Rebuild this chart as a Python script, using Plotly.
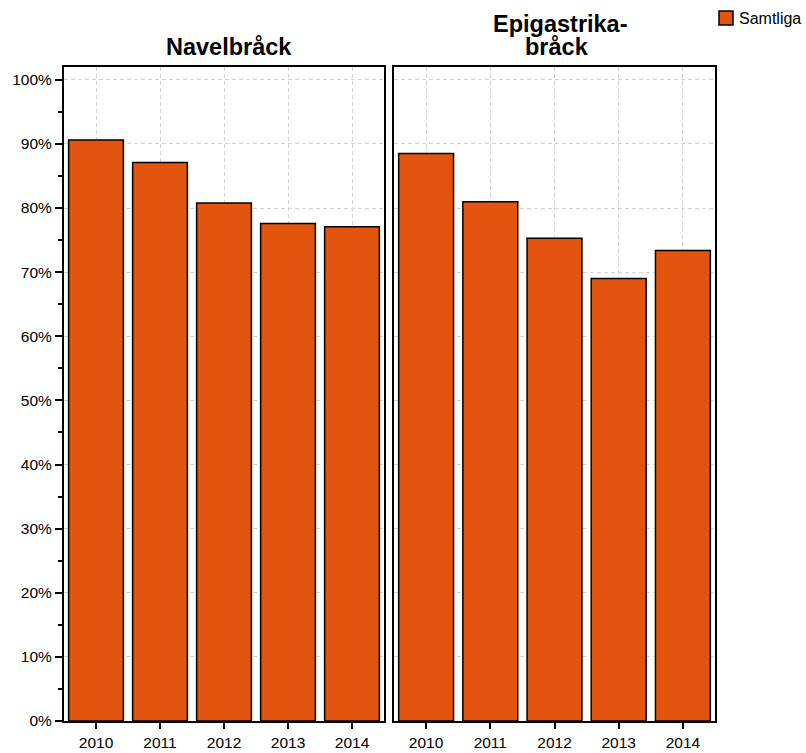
import plotly.graph_objects as go
from plotly.subplots import make_subplots

years = ["2010", "2011", "2012", "2013", "2014"]
navel = [90.6, 87.1, 80.8, 77.6, 77.1]
epigastrika = [88.5, 81.0, 75.3, 69.0, 73.4]
panel_title_1 = "Navelbråck"
panel_title_2 = ["Epigastrika-", "bråck"]
series_name = "Samtliga"
yticks = [0, 10, 20, 30, 40, 50, 60, 70, 80, 90, 100]
ytick_labels = ["0%", "10%", "20%", "30%", "40%", "50%", "60%", "70%", "80%", "90%", "100%"]

color = "#E3550F"
W, H = 806, 753
ml, mr, mt, mb = 64, 91, 67, 32
pw = W - ml - mr
ph = H - mt - mb


def px_x(x):
    return (x - ml) / pw


def px_y(y):
    return 1 - (y - mt) / ph


fig = make_subplots(rows=1, cols=2)
fig.add_trace(go.Bar(x=years, y=navel, name=series_name,
                     marker=dict(color=color, line=dict(color="black", width=1.5)),
                     width=0.855, showlegend=False), row=1, col=1)
fig.add_trace(go.Bar(x=years, y=epigastrika, name=series_name,
                     marker=dict(color=color, line=dict(color="black", width=1.5)),
                     width=0.855, showlegend=False), row=1, col=2)

font = "Liberation Sans, Arial, Helvetica, sans-serif"
grid = dict(showgrid=True, gridcolor="#d4d4d4", griddash="4px,3px", gridwidth=1)
xcommon = dict(showline=True, linecolor="black", linewidth=2, mirror=True, ticks="outside", ticklen=6,
               tickcolor="black", tickwidth=2, range=[-0.5, 4.5], automargin=False,
               tickfont=dict(size=15.5, color="black"), **grid)
ycommon = dict(showline=True, linecolor="black", linewidth=2, mirror=True, range=[0, 102],
               tickvals=yticks, zeroline=False, automargin=False, **grid)

fig.update_xaxes(**xcommon)
fig.update_layout(
    xaxis=dict(domain=[0, 320 / pw]),
    xaxis2=dict(domain=[330 / pw, 1]),
    yaxis=dict(**ycommon, ticktext=ytick_labels, ticks="outside", ticklen=7, tickwidth=2, tickcolor="black",
               tickfont=dict(size=15.5, color="black"),
               minor=dict(dtick=5, ticks="outside", ticklen=4, tickcolor="black", tickwidth=2, showgrid=False)),
    yaxis2=dict(**ycommon, showticklabels=False, ticks=""),
)

tfont = dict(size=23.5, color="black", family=font)
fig.add_annotation(text="<b>" + panel_title_1 + "</b>", x=px_x(229), y=px_y(47), xref="paper", yref="paper",
                   xanchor="center", yanchor="middle", showarrow=False, font=tfont)
fig.add_annotation(text="<b>" + panel_title_2[0] + "</b>", x=px_x(560), y=px_y(24.5), xref="paper", yref="paper",
                   xanchor="center", yanchor="middle", showarrow=False, font=tfont)
fig.add_annotation(text="<b>" + panel_title_2[1] + "</b>", x=px_x(557), y=px_y(47), xref="paper", yref="paper",
                   xanchor="center", yanchor="middle", showarrow=False, font=tfont)

# legend
fig.add_shape(type="rect", xref="paper", yref="paper", x0=px_x(719), x1=px_x(733), y0=px_y(25), y1=px_y(11),
              fillcolor=color, line=dict(color="black", width=1.5))
fig.add_annotation(text=series_name, x=px_x(737), y=px_y(18.5), xref="paper", yref="paper",
                   xanchor="left", yanchor="middle", showarrow=False,
                   font=dict(size=16, color="black", family=font))

fig.update_layout(
    width=W, height=H,
    margin=dict(l=ml, r=mr, t=mt, b=mb, autoexpand=False),
    plot_bgcolor="white", paper_bgcolor="white",
    font=dict(family=font, color="black", size=15.5),
    showlegend=False,
)

fig.write_html("out.html", config={"displayModeBar": False},
               post_script="document.body.style.margin='0';document.body.style.overflow='hidden';")
